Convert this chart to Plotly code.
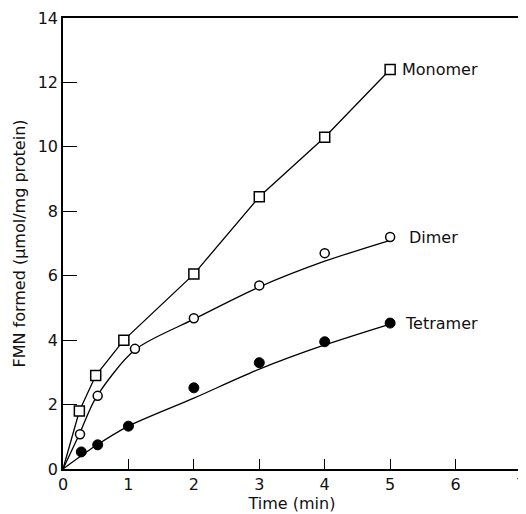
import plotly.graph_objects as go

# Measured points
mono_t = [0.25, 0.5, 0.93, 2.0, 3.0, 4.0, 5.0]
mono_y = [1.8, 2.9, 4.0, 6.05, 8.45, 10.3, 12.4]
dimer_t = [0.26, 0.53, 1.1, 2.0, 3.0, 4.0, 5.0]
dimer_y = [1.08, 2.27, 3.73, 4.68, 5.7, 6.7, 7.2]
tetra_t = [0.28, 0.53, 1.0, 2.0, 3.0, 4.0, 5.0]
tetra_y = [0.53, 0.75, 1.33, 2.52, 3.3, 3.95, 4.53]

# Curves drawn through the data
mono_curve_t = [0, 0.25, 0.5, 0.93, 2.0, 3.0, 4.0, 5.0]
mono_curve_y = [0, 1.8, 2.9, 4.0, 6.05, 8.45, 10.3, 12.4]
dimer_curve_t = [0, 0.25, 0.5, 1.1, 2.0, 3.0, 4.0, 5.0]
dimer_curve_y = [0, 1.08, 2.2, 3.7, 4.65, 5.65, 6.45, 7.1]
tetra_curve_t = [0, 0.5, 1.0, 2.0, 3.0, 4.0, 5.0]
tetra_curve_y = [0, 0.72, 1.33, 2.2, 3.1, 3.85, 4.5]

x_ticks = [0, 1, 2, 3, 4, 5, 6, 7]
y_ticks = [0, 2, 4, 6, 8, 10, 12, 14]

fig = go.Figure()
ln = dict(color="black", width=1.3)
fig.add_trace(go.Scatter(x=mono_curve_t, y=mono_curve_y, mode="lines", line=ln))
fig.add_trace(go.Scatter(x=dimer_curve_t, y=dimer_curve_y, mode="lines", line=dict(ln, shape="spline", smoothing=0.8)))
fig.add_trace(go.Scatter(x=tetra_curve_t, y=tetra_curve_y, mode="lines", line=dict(ln, shape="spline", smoothing=0.8)))

fig.add_trace(go.Scatter(x=mono_t, y=mono_y, mode="markers",
                         marker=dict(symbol="square", size=10, color="white", line=dict(color="black", width=1.5))))
fig.add_trace(go.Scatter(x=dimer_t, y=dimer_y, mode="markers",
                         marker=dict(symbol="circle", size=9, color="white", line=dict(color="black", width=1.5))))
fig.add_trace(go.Scatter(x=tetra_t, y=tetra_y, mode="markers",
                         marker=dict(symbol="circle", size=10, color="black", line=dict(color="black", width=1))))

font = dict(family="DejaVu Sans, Verdana, sans-serif", size=16, color="#111111")
for txt, xv, yv in [("Monomer", 5.15, 12.4), ("Dimer", 5.25, 7.2), ("Tetramer", 5.2, 4.53)]:
    fig.add_annotation(x=xv, y=yv, text=txt, showarrow=False, xanchor="left", yanchor="middle", font=font)

axis_common = dict(showgrid=False, zeroline=False, showline=True, linecolor="black", linewidth=1.5,
                   mirror=True, ticks="inside", tickcolor="black", tickwidth=1.3, tickfont=font,
                   automargin=False, ticklabeloverflow="allow")
fig.update_xaxes(range=[0, 7], tickvals=x_ticks, ticklen=10,
                 title=dict(text="Time (min)", font=font, standoff=4), **axis_common)
fig.update_yaxes(range=[0, 14], tickvals=y_ticks, ticklen=14,
                 title=dict(text="FMN formed (μmol/mg protein)", font=font, standoff=8), **axis_common)

# the page adds an 8px body margin, so the figure is sized to fit the window after that offset
fig.update_layout(width=518, height=506, showlegend=False, plot_bgcolor="white", paper_bgcolor="white",
                  margin=dict(l=55, r=5, t=10, b=45), font=font)
fig.write_html("out.html")
